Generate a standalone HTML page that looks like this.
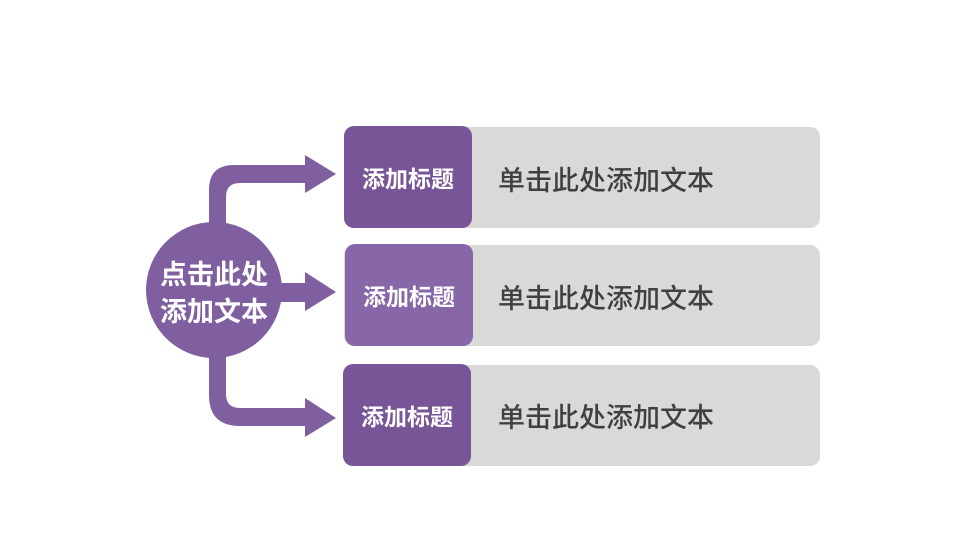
<!DOCTYPE html>
<html><head><meta charset="utf-8"><style>
body{margin:0;width:960px;height:540px;background:#fff;position:relative;overflow:hidden;font-family:"Liberation Sans","Noto Sans CJK SC",sans-serif}
.g{position:absolute;left:344px;width:476px;height:101px;background:#d9d9d9;border-radius:10px}
.p{position:absolute;width:128px;height:102px;border-radius:10px;color:#fff;font-size:23px;font-weight:bold;display:flex;align-items:center;justify-content:center}
.t{position:absolute;left:498px;font-size:27px;color:#404040;line-height:30px;font-weight:500}
</style></head><body>
<svg width="960" height="540" style="position:absolute;left:0;top:0">
<g fill="#7f5fa0">
<path d="M209 240 V190 Q209 165 234 165 H306 V183 H240 Q226 183 226 197 V240 Z"/>
<polygon points="305,155 336,174 305,193"/>
<rect x="260" y="283" width="46" height="19"/>
<polygon points="305,272 336,292 305,311"/>
<path d="M209 340 V395 Q209 426 240 426 H306 V408 H240 Q226 408 226 394 V340 Z"/>
<polygon points="305,398 336,418 305,437"/>
<circle cx="214" cy="290" r="68"/>
</g>
<text x="214" y="284" fill="#fff" font-size="27" font-weight="bold" text-anchor="middle" font-family="Liberation Sans, Noto Sans CJK SC, sans-serif">点击此处</text>
<text x="214" y="321" fill="#fff" font-size="27" font-weight="bold" text-anchor="middle" font-family="Liberation Sans, Noto Sans CJK SC, sans-serif">添加文本</text>
</svg>
<div class="g" style="top:127px"></div>
<div class="g" style="top:245px"></div>
<div class="g" style="top:365px"></div>
<div class="p" style="left:344px;top:126px;background:#775596">添加标题</div>
<div class="p" style="left:345px;top:244px;background:#8767a8">添加标题</div>
<div class="p" style="left:343px;top:364px;background:#775596">添加标题</div>
<div class="t" style="top:166px">单击此处添加文本</div>
<div class="t" style="top:284px">单击此处添加文本</div>
<div class="t" style="top:403px">单击此处添加文本</div>
</body></html>
